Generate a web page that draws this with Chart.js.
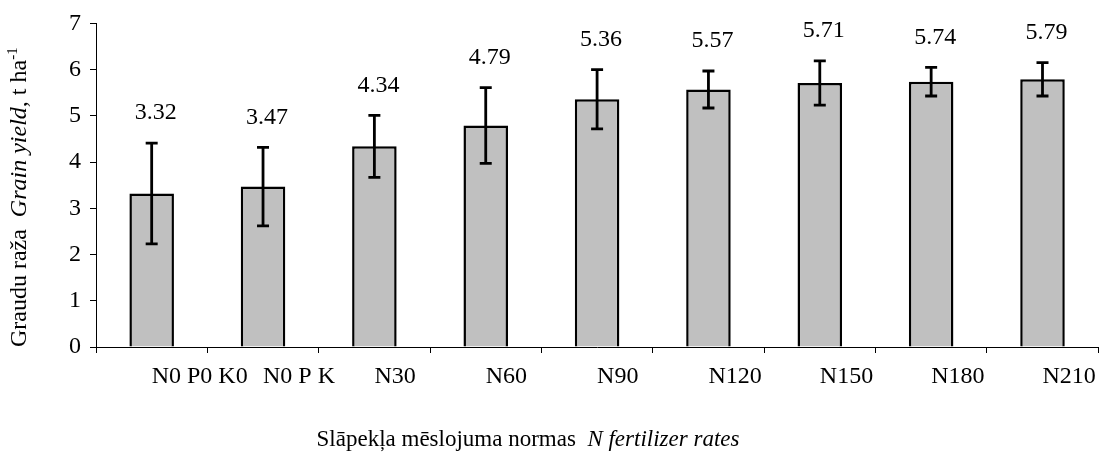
<!DOCTYPE html>
<html>
<head>
<meta charset="utf-8">
<script src="https://cdn.jsdelivr.net/npm/chart.js@4.4.1/dist/chart.umd.min.js"></script>
<style>
  html, body { margin: 0; padding: 0; background: #fff; }
  #wrap { width: 1105px; height: 454px; }
</style>
</head>
<body>
<div id="wrap"><canvas id="chart"></canvas></div>
<script>
// chart values
const categories = ['N0 P0 K0', 'N0 P K', 'N30', 'N60', 'N90', 'N120', 'N150', 'N180', 'N210'];
const grainYield = [3.32, 3.47, 4.34, 4.79, 5.36, 5.57, 5.71, 5.74, 5.79];
const yieldError = [1.09, 0.85, 0.67, 0.82, 0.64, 0.40, 0.48, 0.31, 0.36];
const yTicks = [0, 1, 2, 3, 4, 5, 6, 7];

const FONT = '"Liberation Serif", "Times New Roman", serif';

const errorBars = {
  id: 'errorBars',
  afterDatasetsDraw(chart) {
    const { ctx, scales: { y } } = chart;
    const meta = chart.getDatasetMeta(0);
    ctx.save();
    ctx.strokeStyle = '#000';
    ctx.lineWidth = 2.8;
    ctx.fillStyle = '#000';
    ctx.font = '24px ' + FONT;
    ctx.textAlign = 'center';
    ctx.textBaseline = 'middle';
    meta.data.forEach((bar, i) => {
      const top = y.getPixelForValue(grainYield[i] + yieldError[i]);
      const bot = y.getPixelForValue(grainYield[i] - yieldError[i]);
      ctx.beginPath();
      ctx.moveTo(bar.x, top);
      ctx.lineTo(bar.x, bot);
      ctx.moveTo(bar.x - 6, top);
      ctx.lineTo(bar.x + 6, top);
      ctx.moveTo(bar.x - 6, bot);
      ctx.lineTo(bar.x + 6, bot);
      ctx.stroke();
      ctx.fillText(grainYield[i].toFixed(2), bar.x + 4, top - 30);
    });
    ctx.restore();
  }
};

// axis titles have italic parts, so draw them piece by piece
function drawRuns(ctx, runs, x, y) {
  let total = 0;
  runs.forEach(r => { ctx.font = r.font; total += ctx.measureText(r.text).width; });
  let cx = x - total / 2;
  runs.forEach(r => {
    ctx.font = r.font;
    ctx.fillText(r.text, cx, y + (r.dy || 0));
    cx += ctx.measureText(r.text).width;
  });
}

const axisTitles = {
  id: 'axisTitles',
  afterDraw(chart) {
    const { ctx, chartArea } = chart;
    ctx.save();
    ctx.fillStyle = '#000';
    ctx.textAlign = 'left';
    ctx.textBaseline = 'middle';
    drawRuns(ctx, [
      { text: 'Slāpekļa mēslojuma normas  ', font: '23px ' + FONT },
      { text: 'N fertilizer rates', font: 'italic 23px ' + FONT }
    ], 528, 440);
    ctx.translate(20, (chartArea.top + chartArea.bottom) / 2 + 12);
    ctx.rotate(-Math.PI / 2);
    drawRuns(ctx, [
      { text: 'Graudu raža  ', font: '24px ' + FONT },
      { text: 'Grain yield', font: 'italic 24px ' + FONT },
      { text: ', t ha', font: '24px ' + FONT },
      { text: '-1', font: '15px ' + FONT, dy: -7 }
    ], 0, 0);
    ctx.restore();
  }
};

new Chart(document.getElementById('chart'), {
  type: 'bar',
  data: {
    labels: categories,
    datasets: [{
      label: 'Grain yield',
      data: grainYield,
      backgroundColor: '#c0c0c0',
      borderColor: '#000',
      borderWidth: 2.5,
      barPercentage: 0.8,
      categoryPercentage: 0.5
    }]
  },
  options: {
    responsive: true,
    maintainAspectRatio: false,
    animation: false,
    layout: { padding: { top: 22, right: 3, left: 0, bottom: 0 } },
    plugins: {
      legend: { display: false },
      tooltip: { enabled: false }
    },
    scales: {
      x: {
        grid: { drawOnChartArea: false, drawTicks: true, tickLength: 6, color: '#000', offset: true },
        border: { display: true, color: '#000', width: 1 },
        ticks: { color: '#000', font: { family: FONT, size: 24 }, align: 'start', padding: 9, maxRotation: 0, autoSkip: false },
        afterFit(scale) { scale.height = 107; }
      },
      y: {
        min: 0,
        max: 7,
        afterBuildTicks(scale) { scale.ticks = yTicks.map(v => ({ value: v })); },
        grid: { drawOnChartArea: false, drawTicks: true, tickLength: 6, color: '#000' },
        border: { display: true, color: '#000', width: 1 },
        ticks: { color: '#000', font: { family: FONT, size: 24 }, padding: 9 },
        afterFit(scale) { scale.width = 96; }
      }
    }
  },
  plugins: [errorBars, axisTitles]
});
</script>
</body>
</html>
